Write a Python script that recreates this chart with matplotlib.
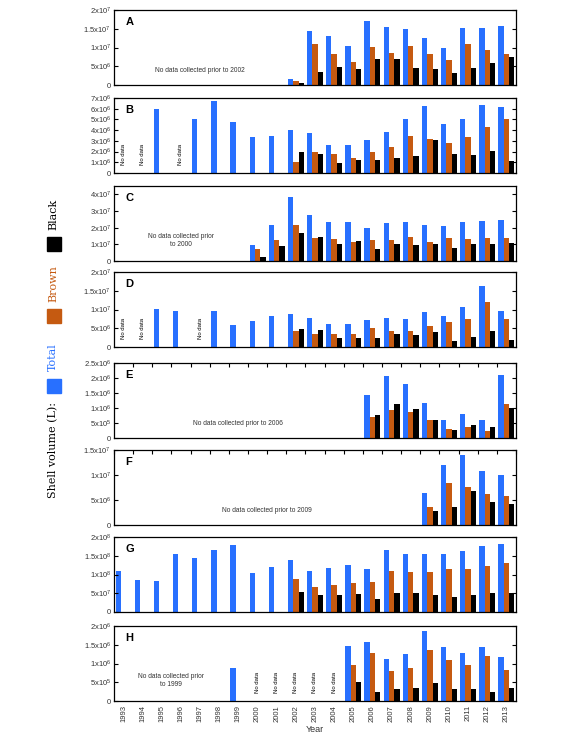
import numpy as np
import matplotlib
matplotlib.use('Agg')
import matplotlib.pyplot as plt
from matplotlib.patches import Rectangle

plt.rcParams['font.family'] = ['Liberation Sans', 'DejaVu Sans']
plt.rcParams['mathtext.default'] = 'regular'

nan = np.nan
years = list(range(1993, 2014))

# panel A
a_total = [nan]*9 + [1.6e6, 1.44e7, 1.31e7, 1.04e7, 1.71e7, 1.55e7, 1.49e7, 1.25e7, 9.9e6, 1.52e7, 1.52e7, 1.57e7]
a_brown = [nan]*9 + [1.07e6, 1.10e7, 8.4e6, 6.2e6, 1.01e7, 8.5e6, 1.04e7, 8.4e6, 6.7e6, 1.10e7, 9.3e6, 8.4e6]
a_black = [nan]*9 + [0.53e6, 3.5e6, 4.8e6, 4.3e6, 6.9e6, 6.9e6, 4.5e6, 4.3e6, 3.2e6, 4.5e6, 5.9e6, 7.5e6]

# panel B
b_total = [nan, nan, 5.97e6, nan, 5.04e6, 6.72e6, 4.76e6, 3.36e6, 3.45e6, 4.01e6, 3.73e6, 2.61e6,
           2.61e6, 3.08e6, 3.83e6, 5.04e6, 6.25e6, 4.57e6, 5.04e6, 6.35e6, 6.16e6]
b_brown = [nan]*9 + [1.03e6, 1.96e6, 1.77e6, 1.4e6, 1.96e6, 2.43e6, 3.45e6, 3.17e6, 2.8e6, 3.36e6, 4.29e6, 5.04e6]
b_black = [nan]*9 + [1.96e6, 1.77e6, 0.93e6, 1.21e6, 1.21e6, 1.4e6, 1.59e6, 3.08e6, 1.77e6, 1.68e6, 2.05e6, 1.12e6]

# panel C
c_total = [nan]*7 + [9.6e6, 2.16e7, 3.84e7, 2.76e7, 2.34e7, 2.34e7, 1.98e7, 2.28e7, 2.34e7, 2.16e7, 2.1e7, 2.34e7, 2.4e7, 2.46e7]
c_brown = [nan]*7 + [7.2e6, 1.26e7, 2.16e7, 1.38e7, 1.32e7, 1.14e7, 1.26e7, 1.26e7, 1.44e7, 1.14e7, 1.38e7, 1.32e7, 1.38e7, 1.38e7]
c_black = [nan]*7 + [2.4e6, 9.0e6, 1.68e7, 1.44e7, 1.02e7, 1.2e7, 7.2e6, 1.02e7, 9.6e6, 1.02e7, 7.8e6, 1.02e7, 1.02e7, 1.08e7]

# panel D
d_total = [nan, nan, 1.02e7, 9.6e6, nan, 9.6e6, 5.8e6, 6.9e6, 8.3e6, 8.8e6, 7.7e6, 6.1e6, 6.1e6,
           7.2e6, 7.7e6, 7.45e6, 9.4e6, 8.3e6, 1.07e7, 1.62e7, 9.6e6]
d_brown = [nan]*9 + [4.2e6, 3.4e6, 3.4e6, 3.6e6, 5.0e6, 4.2e6, 4.2e6, 5.5e6, 6.6e6, 7.45e6, 1.21e7, 7.45e6]
d_black = [nan]*9 + [4.7e6, 4.45e6, 2.5e6, 2.3e6, 2.3e6, 3.4e6, 3.1e6, 3.9e6, 1.7e6, 2.8e6, 4.2e6, 2.0e6]

# panel E
e_total = [nan]*13 + [1.44e6, 2.08e6, 1.81e6, 1.18e6, 6.1e5, 8.1e5, 6.1e5, 2.11e6]
e_brown = [nan]*13 + [7.1e5, 9.4e5, 8.8e5, 6.1e5, 3.1e5, 3.8e5, 2.4e5, 1.14e6]
e_black = [nan]*13 + [7.8e5, 1.14e6, 9.8e5, 6.1e5, 2.8e5, 4.4e5, 3.8e5, 1.0e6]

# panel F
f_total = [nan]*16 + [6.4e6, 1.2e7, 1.41e7, 1.08e7, 1.0e7]
f_brown = [nan]*16 + [3.7e6, 8.4e6, 7.6e6, 6.25e6, 5.9e6]
f_black = [nan]*16 + [2.9e6, 3.7e6, 6.8e6, 4.7e6, 4.3e6]

# panel G
g_total = [1.1e8, 8.5e7, 8.3e7, 1.56e8, 1.43e8, 1.65e8, 1.78e8, 1.05e8, 1.21e8, 1.4e8, 1.1e8, 1.18e8,
           1.26e8, 1.15e8, 1.65e8, 1.56e8, 1.54e8, 1.54e8, 1.62e8, 1.75e8, 1.81e8]
g_brown = [nan]*9 + [8.8e7, 6.6e7, 7.2e7, 7.7e7, 8.0e7, 1.1e8, 1.07e8, 1.07e8, 1.15e8, 1.15e8, 1.24e8, 1.32e8]
g_black = [nan]*9 + [5.3e7, 4.45e7, 4.45e7, 4.7e7, 3.4e7, 5.0e7, 5.0e7, 4.45e7, 3.9e7, 4.45e7, 5.0e7, 5.0e7]

# panel H
h_total = [nan]*6 + [8.9e5] + [nan]*5 + [1.46e6, 1.57e6, 1.12e6, 1.25e6, 1.86e6, 1.44e6, 1.28e6, 1.44e6, 1.18e6]
h_brown = [nan]*12 + [9.6e5, 1.28e6, 8.1e5, 8.9e5, 1.36e6, 1.1e6, 9.6e5, 1.2e6, 8.3e5]
h_black = [nan]*12 + [5.2e5, 2.5e5, 3.3e5, 3.6e5, 4.9e5, 3.3e5, 3.3e5, 2.3e5, 3.6e5]

letters = ['A', 'B', 'C', 'D', 'E', 'F', 'G', 'H']
totals = [a_total, b_total, c_total, d_total, e_total, f_total, g_total, h_total]
browns = [a_brown, b_brown, c_brown, d_brown, e_brown, f_brown, g_brown, h_brown]
blacks = [a_black, b_black, c_black, d_black, e_black, f_black, g_black, h_black]
ymax = [2e7, 7e6, 4.5e7, 2e7, 2.5e6, 1.5e7, 2e8, 2e6]
ystep = [5e6, 1e6, 1e7, 5e6, 5e5, 5e6, 5e7, 5e5]
notes = ['No data collected prior to 2002', None, 'No data collected prior\nto 2000', None,
         'No data collected prior to 2006', 'No data collected prior to 2009', None,
         'No data collected prior\nto 1999']
note_x = [4.0, 0, 3.0, 0, 6.0, 7.5, 0, 2.5]
nodata_years = {1: [1993, 1994, 1996], 3: [1993, 1994, 1997], 7: [2000, 2001, 2002, 2003, 2004]}

blue = '#2870FF'
orange = '#C55A11'
txtc = '#333333'

def fmt(v):
    if v == 0:
        return '0'
    e = int(np.floor(np.log10(v) + 1e-9))
    m = v / 10**e
    return '%gx10$^{%d}$' % (m, e)

W, H = 576, 734
fig = plt.figure(figsize=(5.76, 7.34), dpi=100)
tops = [10, 98, 186, 272, 363, 450, 537, 626]
panel_h = 75
x = np.arange(len(years))
bw = 0.28

for k in range(8):
    top = tops[k]
    ax = fig.add_axes([114/W, 1 - (top + panel_h)/H, 402/W, panel_h/H])
    ax.bar(x - bw, totals[k], bw, color=blue)
    ax.bar(x, browns[k], bw, color=orange)
    ax.bar(x + bw, blacks[k], bw, color='black')
    ax.set_xlim(-0.5, len(years) - 0.5)
    ax.set_ylim(0, ymax[k])
    yt = np.arange(0, ymax[k] + 1, ystep[k])
    ax.set_yticks(yt)
    ax.set_yticklabels([fmt(v) for v in yt])
    ax.tick_params(axis='y', direction='in', length=3, right=True, labelsize=5.5,
                   labelcolor=txtc, pad=2, width=0.8)
    ax.set_xticks(x)
    if k == 7:
        ax.set_xticklabels([str(y) for y in years], rotation=90, fontsize=5.5, color=txtc)
        ax.tick_params(axis='x', length=0, pad=3)
        ax.set_xlabel('Year', fontsize=6.5, color=txtc, labelpad=2)
    else:
        ax.set_xticklabels([])
        ax.tick_params(axis='x', length=0)
    if k in (4, 5):
        ax.set_xticks(np.arange(-0.5, len(years), 1), minor=True)
        ax.tick_params(axis='x', which='minor', top=True, bottom=False, direction='in',
                       length=3, width=0.8)
    for s in ax.spines.values():
        s.set_linewidth(0.9)
    ax.text(0.028, 0.84, letters[k], transform=ax.transAxes, fontsize=8, fontweight='bold',
            va='center', ha='left')
    if notes[k]:
        ax.text(note_x[k], ymax[k] * (0.27 if '\n' in notes[k] else 0.2), notes[k],
                fontsize=4.8, color=txtc, ha='center', va='center', linespacing=1.1)
    for yr in nodata_years.get(k, []):
        ax.text(years.index(yr), ymax[k] * 0.25, 'No data', rotation=90, fontsize=4.3,
                ha='center', va='center')

# vertical y label with color key
serif = ['DejaVu Serif']
fig.text(53/W, 1 - 450/H, 'Shell volume (L):', rotation=90, ha='center', va='center',
         fontsize=8, family=serif)
fig.text(53/W, 1 - 357/H, 'Total', rotation=90, ha='center', va='center',
         fontsize=8, family=serif, color=blue)
fig.text(53/W, 1 - 284/H, 'Brown', rotation=90, ha='center', va='center',
         fontsize=8, family=serif, color=orange)
fig.text(53/W, 1 - 214/H, 'Black', rotation=90, ha='center', va='center',
         fontsize=8, family=serif, color='black')
for ytop, c in [(379, blue), (309, orange), (237, 'black')]:
    fig.patches.append(Rectangle((47/W, 1 - (ytop + 14)/H), 14/W, 14/H,
                                 transform=fig.transFigure, color=c))

fig.savefig('out.png', dpi=100)
